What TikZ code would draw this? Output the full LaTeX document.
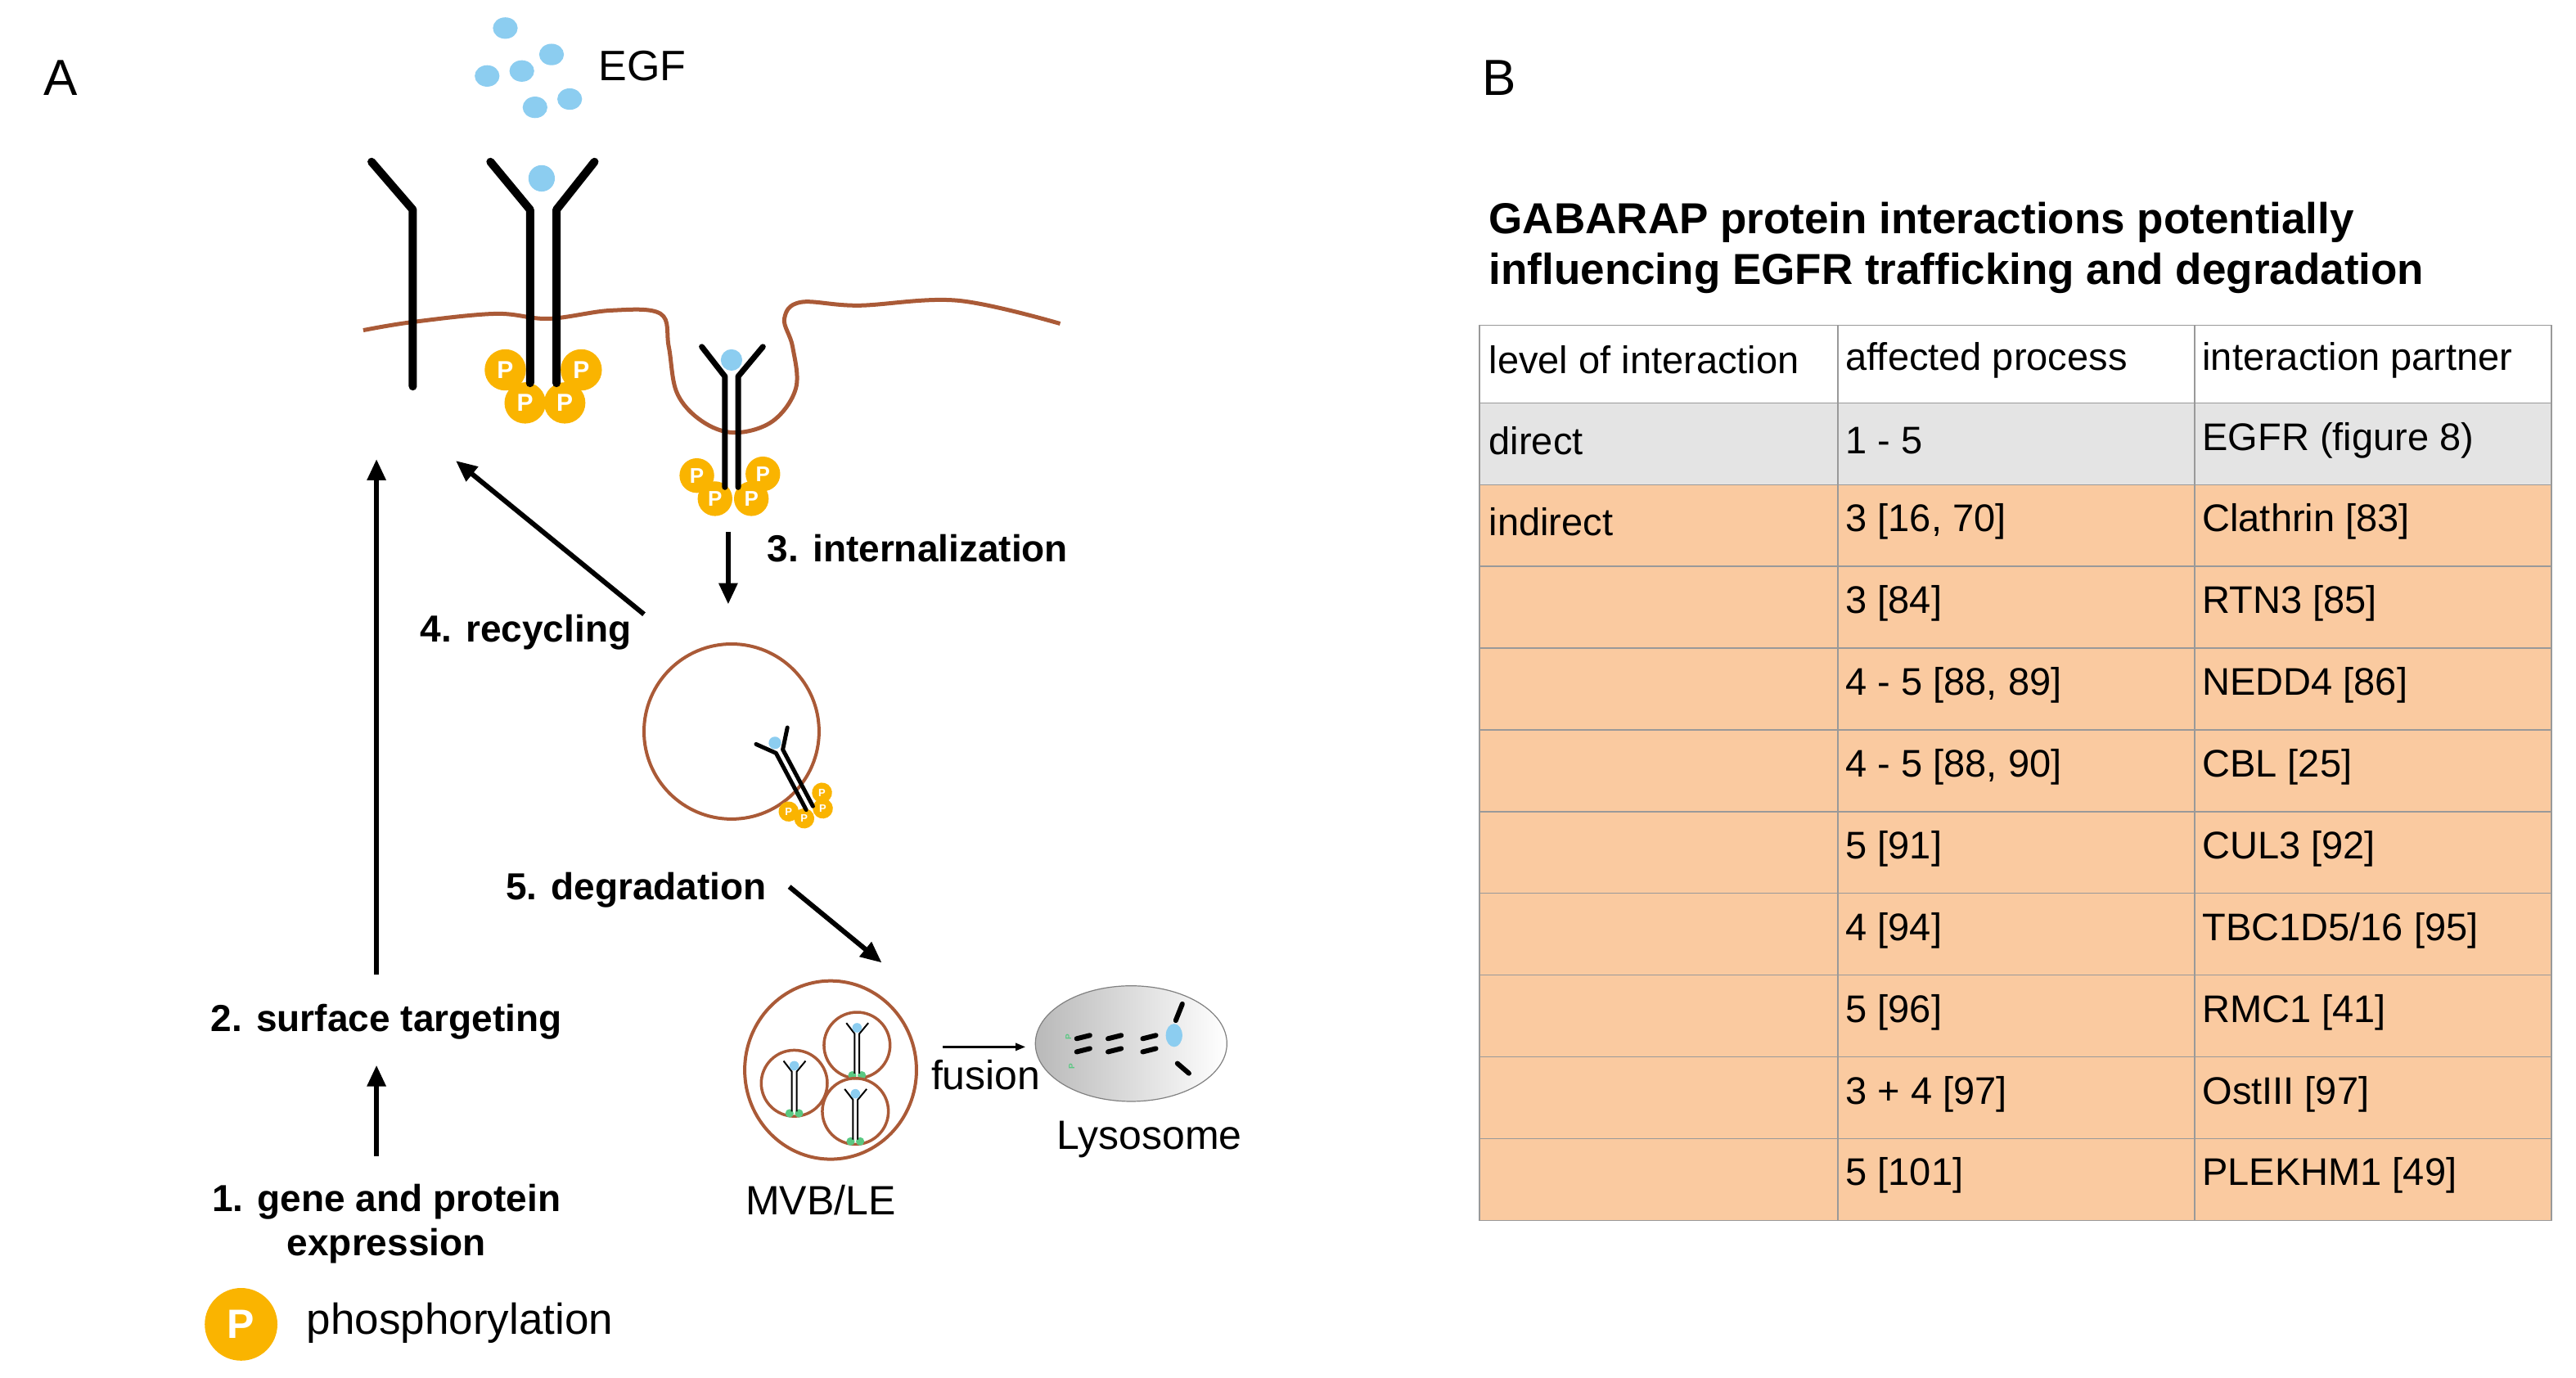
\documentclass[tikz,border=0pt]{standalone}
\usepackage{fontspec}
\setmainfont{Liberation Sans}
\usetikzlibrary{arrows.meta,shapes.geometric}
\definecolor{brn}{RGB}{170,90,55}
\definecolor{egf}{RGB}{140,205,240}
\definecolor{pho}{RGB}{250,180,0}
\definecolor{peach}{RGB}{250,202,160}
\definecolor{gry}{RGB}{228,228,228}
\definecolor{pgr}{RGB}{90,200,130}
\tikzset{
 arr/.style={line width=6pt,-{Triangle[length=26pt,width=22pt]}},
 lbl/.style={font=\fontsize{46}{54}\selectfont\bfseries},
 tbl/.style={font=\fontsize{47}{54}\selectfont,anchor=west},
 mem/.style={draw=brn,line width=5pt},
}
% receptor dimer: x,y,scale,rotate,linewidth,P colour,P font size
\newcommand\Rcp[7]{%
\begin{scope}[shift={(#1,#2)},rotate=#4,scale=#3]
 \foreach \px/\py in {-21/60,19/59,-10/74,12/74}{\fill[#6] (\px,\py) circle (10.5);
   \node[text=white,font=\fontsize{#7}{#7}\selectfont\bfseries] at (\px,\py) {P};}
 \draw[line width=#5,line cap=round,line join=round] (-18,-18)--(-4,0)--(-4,67) (19,-18)--(4,0)--(4,67);
 \fill[egf] (0,-10) circle (6.5);
\end{scope}}
\begin{document}
\begin{tikzpicture}[x=2.018pt,y=-2.018pt]
\useasboundingbox (0,0) rectangle (1560,834.5);
\node[font=\fontsize{62}{62}\selectfont] (A) at (37,47) {A};
\node[font=\fontsize{62}{62}\selectfont] (B) at (908,47) {B};
% EGF
\foreach \x/\y in {306/17,334/33,316/43,295/46,345/60,324/65}\fill[egf] (\x,\y) ellipse (7.5 and 6.5);
\node[font=\fontsize{52}{52}\selectfont] (egf) at (389,40) {EGF};
% membrane
\draw[mem] plot[smooth,tension=0.6] coordinates {(220,200)(250,195)(300,190)(332,193)(370,188)(400,190)(405,210)(410,238)(425,255)(445,262)(468,255)(482,235)(480,210)(475,193)(485,183)(520,185)(580,182)(642,196)};
% receptor 1
\draw[line width=10pt,line cap=round,line join=round] (225,98)--(250,127)--(250,234);
% receptor 2
\foreach \x/\y in {306/224,352/224,318/244,342/244}{\fill[pho] (\x,\y) circle (12.5);\node[text=white,font=\fontsize{30}{30}\selectfont\bfseries] at (\x,\y){P};}
\draw[line width=10pt,line cap=round,line join=round] (297,98)--(321,127)--(321,232) (360,98)--(337,127)--(337,232);
\fill[egf] (328,108) circle (8);
% receptor 3
\Rcp{443}{228}{1}{0}{7pt}{pho}{26}
% vesicle
\draw[brn,line width=4pt] (443,443) circle (53);
\Rcp{472}{455}{0.58}{28}{5pt}{pho}{13}
% MVB
\draw[brn,line width=4pt] (503,648) ellipse (52 and 54);
\foreach \cx/\cy in {519/633,481/656,518/673}{\draw[brn,line width=3.5pt] (\cx,\cy) circle (20);
 \begin{scope}[shift={(\cx,\cy-7)},scale=0.36]
  \foreach \px in {-8,8}\fill[pgr] (\px,70) circle (7);
  \draw[line width=2pt] (-18,-18)--(-4,0)--(-4,67) (19,-18)--(4,0)--(4,67);
  \fill[egf] (0,-10) circle (8);
 \end{scope}}
% lysosome
\node[ellipse,draw=gray,line width=1.2pt,left color=gray!55,right color=white,minimum width=116pt*2.018,minimum height=70pt*2.018] (lys) at (685,632) {};
\begin{scope}[line width=6pt,line cap=round]
\foreach \x in {656,675,696}{\draw (\x-4,629)--(\x+4,627); \draw (\x-4,637)--(\x+4,635);}
\draw (712,618)--(716,608); \draw (713,644)--(720,650);
\fill[egf] (711,627) ellipse (5 and 7);
\end{scope}
\node[text=pgr,font=\fontsize{10}{10}\selectfont\bfseries,rotate=90] at (647,628) {P};
\node[text=pgr,font=\fontsize{10}{10}\selectfont\bfseries,rotate=90] at (649,646) {P};
% labels
\node[lbl,anchor=west] (int) at (463,332) {3. internalization};
\node[lbl,anchor=east] (rec) at (384,383) {4. recycling};
\node[lbl,anchor=east] (deg) at (466,539) {5. degradation};
\node[lbl] (sur) at (234,619) {2. surface targeting};
\node[lbl,align=center] (gen) at (234,741) {1. gene and protein\\expression};
\node[font=\fontsize{50}{50}\selectfont] (mvb) at (497,727) {MVB/LE};
\node[font=\fontsize{50}{50}\selectfont] (lyst) at (696,690) {Lysosome};
\node[font=\fontsize{50}{50}\selectfont] (fus) at (597,651) {fusion};
\node[circle,fill=pho,minimum size=44*2.018pt,inner sep=0pt,text=white,font=\fontsize{50}{50}\selectfont\bfseries] (pleg) at (146,802) {P};
\node[font=\fontsize{53}{53}\selectfont,anchor=west] (phos) at (184,801) {phosphorylation};
% arrows
\coordinate (a1s) at (228,700); \coordinate (a1e) at (228,645);
\coordinate (a2s) at (228,590); \coordinate (a2e) at (228,278);
\coordinate (a3s) at (441,322); \coordinate (a3e) at (441,366);
\coordinate (a4s) at (390,372); \coordinate (a4e) at (276,279);
\coordinate (a5s) at (478,537); \coordinate (a5e) at (534,583);
\coordinate (a6s) at (571,634); \coordinate (a6e) at (621,634);
\draw[arr] (a1s)--(a1e);
\draw[arr] (a2s)--(a2e);
\draw[arr] (a3s)--(a3e);
\draw[arr] (a4s)--(a4e);
\draw[arr] (a5s)--(a5e);
\draw[line width=2.5pt,-{Triangle[length=12pt,width=9pt]}] (a6s)--(a6e);
% table
\node[font=\fontsize{53}{62}\selectfont\bfseries,anchor=west,align=left] (tt) at (900,150) {GABARAP protein interactions potentially\\influencing EGFR trafficking and degradation};
\fill[gry] (896,244) rectangle (1545,293.5);
\fill[peach] (896,293.5) rectangle (1545,739);
\draw[gray!80,line width=1.5pt] (896,197) rectangle (1545,739);
\foreach \y in {244,293.5,343,392.5,442,491.5,541,590.5,640,689.5}\draw[gray!80,line width=1.5pt] (896,\y)--(1545,\y);
\foreach \x in {1113,1329}\draw[gray!80,line width=1.5pt] (\x,197)--(\x,739);
\foreach \yy/\a/\b/\c [count=\i] in {218/level of interaction/affected process/interaction partner,
 267/direct/1 - 5/EGFR (figure 8),
 316/indirect/{3 [16, 70]}/Clathrin [83],
 365.5//3 [84]/RTN3 [85],
 415//{4 - 5 [88, 89]}/NEDD4 [86],
 464.5//{4 - 5 [88, 90]}/CBL [25],
 514//5 [91]/CUL3 [92],
 563.5//4 [94]/{TBC1D5/16 [95]},
 613//5 [96]/RMC1 [41],
 662.5//3 + 4 [97]/OstIII [97],
 712//5 [101]/PLEKHM1 [49]}{
 \node[tbl] (c\i a) at (900,\yy) {\a};
 \node[tbl] (c\i b) at (1116,\yy) {\b};
 \node[tbl] (c\i c) at (1332,\yy) {\c};}
\end{tikzpicture}
\end{document}
